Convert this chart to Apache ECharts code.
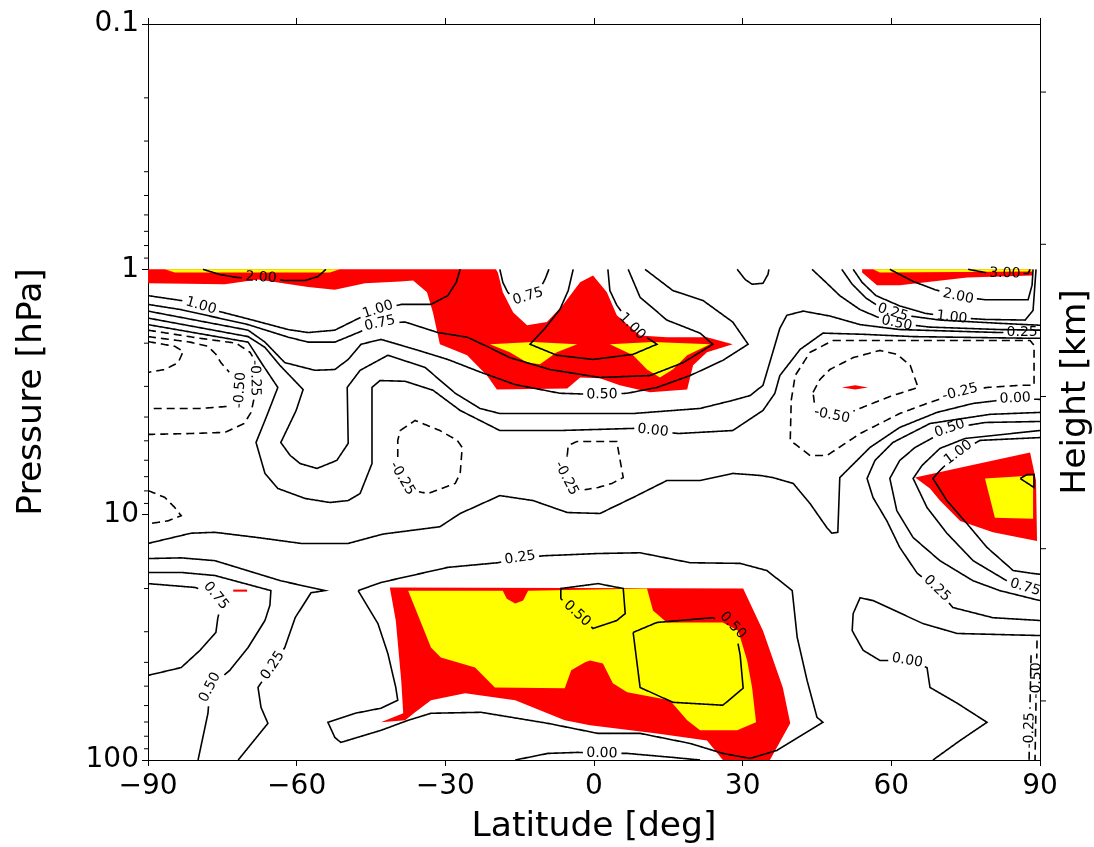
<!DOCTYPE html>
<html><head><meta charset="utf-8">
<script src="https://cdn.jsdelivr.net/npm/echarts@6/dist/echarts.min.js"></script>
<style>html,body{margin:0;padding:0;background:#fff;}#chart{width:1094px;height:847px;}</style>
</head><body><div id="chart"></div>
<script>
// ---------- axes ----------
const latTicks = [-90, -60, -30, 0, 30, 60, 90];
const pressureTicks = [0.1, 1, 10, 100];
const pressureMinorTicks = [0.2,0.3,0.4,0.5,0.6,0.7,0.8,0.9, 2,3,4,5,6,7,8,9, 20,30,40,50,60,70,80,90];
const heightTicksKm = [20, 30, 40, 50, 60];
const scaleHeightKm = 7;
const refPressureHPa = 1000;

// ---------- contour lines: flat [lat, pressure(hPa), lat, pressure, ...] ----------
const c_L200 = [-78.9,1.00, -75.5,1.05, -72.0,1.08, -67.2,1.09, -62.4,1.11, -58.3,1.11, -55.7,1.07, -54.1,1.00];
const c_L100 = [-90,1.28, -83.3,1.34, -75.9,1.48, -69.4,1.60, -61.7,1.76, -57.7,1.81, -52.3,1.77, -48.2,1.61, -43.6,1.46, -38.9,1.39, -32.9,1.39, -29.5,1.28, -27.8,1.13, -27.0,1.00];
const c_L075 = [-90,1.39, -83.3,1.46, -69.8,1.68, -61.7,1.89, -57.7,1.98, -52.3,1.98, -49.0,1.86, -43.2,1.66, -38.1,1.64, -31.5,1.81, -25.6,1.89, -21.6,2.06, -17.0,2.29, -8.9,2.56, 1.2,2.76, 11.3,2.71, 18.0,2.40, 24.0,2.02, 21.4,1.82, 14.7,1.61, 9.3,1.30, 6.9,1.00];
const c_L050 = [-90,1.48, -69.8,1.77, -66.4,1.98, -62.4,2.40, -56.3,2.58, -52.3,2.56, -49.6,2.33, -47.0,2.02, -43.0,1.93, -36.1,2.12, -29.5,2.33, -22.8,2.63, -15.9,2.95, -6.9,3.20, 1.6,3.24, 6.7,3.20, 12.7,3.03, 19.4,2.71, 26.0,2.35, 31.1,2.02, 28.0,1.64, 22.0,1.34, 15.9,1.22, 10.3,1.00];
const c_L025 = [-90,1.58, -69.8,1.88, -66.4,2.08, -63.4,2.46, -58.7,3.09, -60.1,3.76, -63.2,5.08, -61.3,5.74, -59.3,6.19, -55.9,6.48, -51.9,6.01, -49.6,5.12, -49.8,3.03, -47.2,2.58, -41.6,2.24, -34.1,2.51, -28.0,3.20, -23.0,3.69, -19.0,3.87, 7.9,3.87, 21.4,3.69, 28.0,3.42, 31.5,3.27, 34.1,2.97, 35.9,2.24, 37.5,1.74, 38.9,1.54, 42.2,1.48, 47.6,1.55, 53.7,1.68, 61.7,1.76, 81.9,1.81, 90,1.81];
const c_L000 = [-90,1.68, -69.8,1.98, -66.8,2.46, -63.8,3.03, -66.0,3.94, -68.2,5.08, -66.4,6.79, -63.8,7.82, -58.3,8.59, -53.3,8.92, -49.6,8.76, -47.2,8.20, -44.8,6.19, -44.8,3.03, -43.2,2.84, -38.1,2.86, -32.5,3.11, -27.0,3.76, -19.0,4.54, -6.9,4.54, 7.9,4.45, 11.9,4.54, 17.0,4.67, 28.0,4.54, 34.1,3.76, 36.5,3.20, 37.5,2.71, 41.6,2.12, 46.2,1.82, 54.3,1.84, 64.4,1.88, 88.0,1.91, 90,1.91];
const c_Lm025 = [-90,1.77, -79.5,1.91, -72.2,2.00, -69.4,2.18, -68.2,2.40, -68.6,2.78, -68.6,3.36, -69.2,3.83, -70.6,4.25, -74.5,4.62, -81.5,4.67, -90,4.71];
const c_Lm050 = [-90,1.88, -81.5,1.98, -77.9,2.06, -76.3,2.22, -75.3,2.40, -73.0,2.71, -71.4,3.11, -71.8,3.42, -73.9,3.62, -79.5,3.69, -90,3.69];
const c_Lm075 = [-90,1.97, -84.6,2.06, -82.9,2.16, -83.9,2.40, -86.6,2.56, -90,2.63];
const c_U075 = [-19.0,1.00, -18.4,1.13, -17.4,1.24, -15.9,1.33, -13.3,1.29, -10.7,1.18, -9.9,1.10, -9.1,1.00];
const c_U100 = [-4.2,1.00, -5.2,1.22, -6.9,1.46, -9.9,1.74, -12.9,2.02, -7.5,2.24, -0.2,2.33, 7.9,2.22, 12.7,2.02, 9.3,1.82, 7.7,1.71, 4.6,1.40, 3.2,1.22, 2.8,1.00];
const c_U025 = [28.9,1.00, 30.5,1.10, 31.9,1.15, 34.1,1.14, 35.1,1.05, 35.3,1.00];
const c_Ra = [44.0,1.00, 46.6,1.12, 49.6,1.28, 53.7,1.46, 57.7,1.58, 61.1,1.66, 67.8,1.72, 81.9,1.76, 90,1.77];
const c_Rb = [50.0,1.00, 52.1,1.15, 54.9,1.31, 58.7,1.47, 63.8,1.55, 69.8,1.61, 81.9,1.66, 90,1.69];
const c_Rc = [52.3,1.00, 54.1,1.13, 56.9,1.28, 61.7,1.41, 66.8,1.51, 72.2,1.57, 78.9,1.60, 87.0,1.61, 88.6,1.47, 89.2,1.00];
const c_R200 = [59.7,1.00, 64.4,1.12, 68.8,1.21, 73.5,1.29, 78.9,1.33, 87.6,1.33, 88.4,1.16, 88.6,1.00];
const c_R300 = [75.5,1.00, 78.9,1.03, 82.9,1.04, 87.6,1.04, 88.0,1.00];
const c_Rm025 = [48.2,1.95, 88.0,1.95, 88.8,2.04, 88.8,2.97, 86.0,2.97, 79.3,3.03, 73.9,3.17, 67.2,3.52, 61.7,3.87, 53.7,4.67, 47.0,5.74, 43.6,5.74, 39.6,4.98, 39.8,3.42, 40.6,2.71, 43.6,2.18, 48.2,1.95];
const c_Rm050 = [44.2,3.17, 45.6,2.81, 47.6,2.56, 52.3,2.29, 57.7,2.14, 61.1,2.22, 63.8,2.46, 65.4,3.03, 59.7,3.30, 55.1,3.59, 51.7,3.83, 48.0,3.94, 44.6,3.69, 44.2,3.17];
const c_Cm025a = [-39.1,4.54, -36.1,4.13, -31.1,4.54, -27.6,4.98, -26.6,5.32, -27.0,6.79, -28.0,7.46, -33.5,8.20, -36.7,7.97, -38.7,7.12, -39.6,6.01, -39.6,4.98, -39.1,4.54];
const c_Cm025b = [-5.4,5.74, -5.2,5.22, -3.4,5.03, 4.6,5.03, 5.2,5.90, 5.9,7.06, 3.6,7.46, 0.8,7.75, -2.8,7.97, -5.2,7.39, -6.1,6.61, -5.4,5.74];
const c_Lm025b = [-90,7.97, -86.6,8.51, -84.6,9.35, -83.3,10.1, -86.0,10.6, -90,10.9];
const c_M000 = [-90,13.1, -81.3,11.9, -76.5,11.8, -67.8,12.4, -59.1,13.1, -49.6,13.1, -42.6,12.0, -31.1,11.2, -27.0,9.89, -19.0,8.36, -12.3,8.76, -5.4,9.80, 1.2,9.89, 7.9,8.51, 14.7,7.26, 21.4,7.26, 28.0,6.79, 33.5,6.92, 36.1,7.06, 40.2,7.46, 43.6,9.01, 47.0,11.3, 48.0,11.9, 49.2,11.8, 49.6,7.06, 55.7,5.32, 61.7,4.41, 69.2,3.83, 76.5,3.52, 85.0,3.36, 90,3.39];
const c_V025 = [90,3.83, 79.9,3.90, 67.8,4.25, 60.3,5.08, 56.7,6.01, 55.1,7.12, 56.3,8.51, 59.1,10.6, 61.7,13.6, 65.2,17.3, 69.2,20.0, 72.4,23.9, 80.5,26.3, 90,27.0];
const c_V050 = [90,4.17, 78.9,4.21, 71.8,4.45, 64.8,5.32, 61.7,6.01, 59.7,7.12, 61.1,9.62, 64.4,12.4, 69.8,15.4, 76.5,18.6, 81.9,20.4, 90,22.4];
const c_V075 = [90,4.54, 74.9,4.89, 69.8,5.37, 66.2,6.30, 64.4,7.12, 67.2,9.35, 71.2,11.9, 76.5,15.4, 83.3,18.6, 87.0,19.8, 90,20.4];
const c_V100 = [90,4.85, 77.9,4.98, 73.5,5.58, 69.8,6.61, 68.4,7.12, 71.2,8.76, 75.3,10.9, 79.3,13.6, 84.6,16.9, 88.0,17.3, 90,17.5];
const c_V150 = [86.0,7.12, 87.4,6.86, 88.8,6.86, 88.8,7.75, 86.0,7.12];
const c_LB025 = [-90,15.1, -83.3,15.0, -76.5,15.4, -63.2,18.6, -54.3,20.4, -57.1,20.8, -60.3,26.3, -62.4,34.8, -64.8,41.2, -67.8,50.6, -67.2,61.0, -65.8,70.9, -71.8,100];
const c_LB050 = [-90,17.2, -83.3,17.2, -76.5,17.7, -65.2,20.4, -65.4,23.4, -66.4,27.0, -69.8,34.8, -73.5,43.1, -77.5,50.6, -77.9,64.5, -79.9,100];
const c_LB075 = [-90,19.1, -80.5,19.8, -77.5,20.8, -75.1,22.8, -75.9,26.3, -76.3,30.2, -79.5,35.7, -83.3,42.0, -90,45.2];
const c_B025 = [-47.6,20.4, -43.0,18.9, -29.5,16.4, -19.4,15.7, -14.9,15.0, -9.9,14.7, 0.8,14.4, 9.3,14.3, 19.4,15.7, 29.5,15.8, 34.9,16.9, 40.0,20.4, 41.0,31.6, 43.0,47.4, 45.0,67.0, 46.2,70.2, 36.9,91.4, 31.5,98.5, 26.0,94.0, 19.4,85.6, 9.3,77.9, 0.8,77.9, -9.3,70.9, -22.8,63.9, -32.9,64.5, -37.5,68.9, -43.0,75.7, -51.1,84.8, -52.3,80.9, -53.7,70.2, -48.2,64.5, -43.0,61.5, -39.6,57.1, -40.0,50.6, -41.6,36.8, -43.6,27.8, -47.6,20.4];
const c_B050a = [-6.7,22.0, -6.7,20.0, 0.8,19.1, 5.9,20.0, 6.3,25.3, 4.6,27.0, -0.2,29.1, -6.7,22.0];
const c_B050b = [7.9,30.2, 12.7,27.5, 24.0,26.3, 28.5,29.1, 29.5,37.4, 30.1,51.0, 26.0,59.8, 15.9,58.2, 9.3,50.6, 7.9,30.2];
const c_B000 = [-15.9,100, -9.3,94.0, -3.2,93.1, 1.6,94.0, 6.7,94.0, 15.9,97.6, 21.4,100];
const c_R000b = [90,31.1, 73.3,30.5, 66.4,27.8, 56.3,22.4, 53.7,21.8, 52.3,25.3, 52.1,29.7, 54.3,35.7, 57.7,39.3, 63.2,39.3, 67.2,42.0, 67.8,50.6, 73.3,58.7, 79.3,70.2, 73.9,83.2, 68.4,100];
const c_E050 = [89.4,32.6, 89.2,57.1, 89.0,100];
const c_E025 = [88.2,37.4, 88.0,57.1, 87.8,100];

// [name, level, points]
const contourSet = [
  ['L200',2.00,c_L200],['L100',1.00,c_L100],['L075',0.75,c_L075],['L050',0.50,c_L050],['L025',0.25,c_L025],['L000',0.00,c_L000],
  ['Lm025',-0.25,c_Lm025],['Lm050',-0.50,c_Lm050],['Lm075',-0.75,c_Lm075],
  ['U075',0.75,c_U075],['U100',1.00,c_U100],['U025',0.25,c_U025],
  ['Ra',0.50,c_Ra],['Rb',0.75,c_Rb],['Rc',1.00,c_Rc],['R200',2.00,c_R200],['R300',3.00,c_R300],
  ['Rm025',-0.25,c_Rm025],['Rm050',-0.50,c_Rm050],['Cm025a',-0.25,c_Cm025a],['Cm025b',-0.25,c_Cm025b],['Lm025b',-0.25,c_Lm025b],
  ['M000',0.00,c_M000],['V025',0.25,c_V025],['V050',0.50,c_V050],['V075',0.75,c_V075],['V100',1.00,c_V100],['V150',1.50,c_V150],
  ['LB025',0.25,c_LB025],['LB050',0.50,c_LB050],['LB075',0.75,c_LB075],
  ['B025',0.25,c_B025],['B050a',0.50,c_B050a],['B050b',0.50,c_B050b],['B000',0.00,c_B000],['R000b',0.00,c_R000b],
  ['E050',-0.50,c_E050],['E025',-0.25,c_E025]
];

// inline contour labels: [contour, lat, pressure, text]
const contourLabels = [
  ['L200',-67.2,1.08,'2.00'],['L100',-79.3,1.41,'1.00'],['L100',-43.6,1.46,'1.00'],['L075',-43.2,1.66,'0.75'],
  ['L050',1.6,3.24,'0.50'],['L025',86.4,1.81,'0.25'],['L000',11.9,4.54,'0.00'],
  ['Ra',61.1,1.66,'0.50'],['Rb',60.3,1.50,'0.25'],['Rc',72.2,1.57,'1.00'],['R200',73.5,1.29,'2.00'],['R300',82.9,1.04,'3.00'],
  ['Rm025',73.9,3.17,'-0.25'],['Rm050',48.0,3.94,'-0.50'],['Cm025a',-38.7,7.12,'-0.25'],['Cm025b',-5.6,7.12,'-0.25'],
  ['Lm025',-68.4,2.78,'-0.25'],['Lm050',-71.4,3.11,'-0.50'],['M000',85.0,3.36,'0.00'],
  ['LB025',-64.8,41.2,'0.25'],['LB050',-77.5,50.6,'0.50'],['LB075',-76.3,21.4,'0.75'],['B025',-14.9,15.0,'0.25'],
  ['R000b',63.2,39.3,'0.00'],['V025',69.2,20.0,'0.25'],['V050',71.8,4.45,'0.50'],['V075',87.0,19.8,'0.75'],['V100',73.5,5.58,'1.00'],
  ['B050a',-3.4,25.3,'0.50'],['B050b',28.0,28.3,'0.50'],['B000',1.6,94.0,'0.00'],['U075',-13.3,1.29,'0.75'],['U100',7.7,1.71,'1.00'],
  ['E050',89.3,47.4,'-0.50'],['E025',87.9,75.7,'-0.25']
];

// ---------- shaded regions ----------
const red_topWest = [-90,1, -19.8,1, -19.4,1.03, -18.4,1.24, -16.3,1.50, -13.5,1.69, -9.5,1.64, -6.3,1.40, -2.8,1.13, -0.2,1.06, 2.6,1.24, 4.6,1.54, 9.3,1.86, 14.7,1.89, 22.8,1.89, 28.0,2.02, 22.8,2.18, 20.0,2.46, 18.8,3.09, 11.3,3.17, 5.2,2.97, 1.2,2.78, -2.8,2.76, -5.4,3.06, -19.6,3.09, -21.6,2.71, -25.6,2.24, -31.1,2.02, -32.5,1.50, -33.7,1.24, -36.5,1.11, -39.1,1.12, -46.2,1.14, -52.3,1.21, -57.7,1.18, -67.8,1.10, -74.5,1.15, -90,1.14];
const red_topEast = [54.1,1, 88.4,1, 88.4,1.06, 75.3,1.08, 61.7,1.16, 57.1,1.16, 54.1,1.03];
const red_midEast = [64.8,7.06, 75.9,6.30, 88.0,5.58, 89.2,7.26, 89.4,12.8, 80.5,11.8, 73.9,10.6, 69.8,8.76, 67.8,7.82];
const red_dashEast = [50.0,3.03, 52.7,2.97, 55.3,3.03, 52.7,3.09];
const red_dashWest = [-72.8,20.2, -70.0,20.2, -70.0,20.6, -72.8,20.6];
const red_lower = [-41.2,19.8, 30.1,20.0, 34.1,29.7, 38.1,50.6, 39.6,70.9, 35.5,100, 26.0,100, 22.8,83.2, 12.7,77.9, -0.8,72.2, -5.9,68.9, -15.9,57.1, -26.0,53.5, -32.9,57.1, -36.1,63.9, -38.1,68.9, -43.0,70.2, -38.5,64.5, -38.9,47.4, -40.0,27.0];
const yellow_topWest = [-86.6,1, -51.3,1, -53.3,1.03, -84.6,1.03];
const yellow_lobeWest = [-21.0,2.02, -12.3,1.98, -3.4,2.02, -7.5,2.18, -10.9,2.44, -13.5,2.40, -17.0,2.18];
const yellow_lobeEast = [3.2,2.02, 11.9,1.98, 23.4,2.02, 18.8,2.24, 15.9,2.56, 13.3,2.76, 10.7,2.56, 7.9,2.24];
const yellow_topEast = [56.3,1, 88.4,1, 88.4,1.02, 57.7,1.03];
const yellow_midEast = [78.9,7.12, 88.6,6.92, 88.6,10.4, 80.9,10.3];
const yellow_lower = [-37.5,20.4, -18.4,20.4, -17.6,22.0, -15.9,23.0, -14.3,22.4, -13.3,20.4, 10.7,20.0, 11.9,24.6, 14.7,27.5, 26.0,27.5, 29.1,29.7, 30.9,39.3, 31.9,50.6, 32.7,70.2, 28.9,75.7, 21.4,75.7, 18.8,68.9, 15.3,57.1, 6.7,53.0, 3.8,48.7, 1.8,40.4, -0.8,39.3, -1.8,40.0, -4.6,43.1, -5.9,51.0, -20.0,50.6, -24.0,42.0, -30.9,38.2, -32.9,34.8];
const redAreas = [red_topWest, red_topEast, red_midEast, red_dashEast, red_dashWest, red_lower];
const yellowAreas = [yellow_topWest, yellow_lobeWest, yellow_lobeEast, yellow_topEast, yellow_midEast, yellow_lower];

// ---------- drawing ----------
const FONT = 'DejaVu Sans';
const fills = redAreas.map(a => ({pts: a, color: '#ff0000'})).concat(yellowAreas.map(a => ({pts: a, color: '#ffff00'})));
function pairs(flat) { const o = []; for (let i = 0; i < flat.length; i += 2) o.push([flat[i], flat[i + 1]]); return o; }
function textWidth(t) { let w = 0; for (const ch of t) w += ch === '.' ? 4.45 : (ch === '-' ? 5.1 : 8.9); return w; }

const chart = echarts.init(document.getElementById('chart'));
const axisStyle = {color: '#000', width: 1};
const titleStyle = {fontSize: 34.5, fontFamily: FONT, color: '#000'};
chart.setOption({
  animation: false,
  backgroundColor: '#fff',
  grid: {left: 148, right: 54, top: 24, bottom: 87, containLabel: false, outerBoundsMode: 'none'},
  xAxis: [
    {type: 'value', min: latTicks[0], max: latTicks[latTicks.length - 1], interval: 30, position: 'bottom',
     axisLine: {show: true, onZero: false, lineStyle: axisStyle},
     axisTick: {show: true, inside: false, length: 6, lineStyle: axisStyle},
     splitLine: {show: false},
     axisLabel: {fontSize: 28, fontFamily: FONT, color: '#000', margin: 13,
                 formatter: v => v < 0 ? '\u2212' + Math.abs(v) : String(v)},
     name: 'Latitude [deg]', nameLocation: 'middle', nameGap: 50, nameTextStyle: titleStyle},
    {type: 'value', min: latTicks[0], max: latTicks[latTicks.length - 1], interval: 30, position: 'top',
     axisLine: {show: true, onZero: false, lineStyle: axisStyle},
     axisTick: {show: true, inside: false, length: 6, lineStyle: axisStyle},
     splitLine: {show: false}, axisLabel: {show: false}}
  ],
  yAxis: [
    {type: 'log', logBase: 10, min: pressureTicks[0], max: pressureTicks[pressureTicks.length - 1], inverse: true, position: 'left',
     axisLine: {show: true, onZero: false, lineStyle: axisStyle},
     axisTick: {show: true, inside: false, length: 6, lineStyle: axisStyle},
     splitLine: {show: false},
     axisLabel: {fontSize: 28, fontFamily: FONT, color: '#000', margin: 9,
                 formatter: v => (Math.abs(v - 0.1) < 1e-9 ? '0.1' : String(Math.round(v)))},
     name: 'Pressure [hPa]', nameLocation: 'middle', nameGap: 98, nameRotate: 90, nameTextStyle: titleStyle},
    {type: 'value', position: 'right', min: 0, max: 1,
     axisLine: {show: true, onZero: false, lineStyle: axisStyle},
     axisTick: {show: false}, axisLabel: {show: false}, splitLine: {show: false},
     name: 'Height [km]', nameLocation: 'middle', nameGap: 19, nameRotate: 90, nameTextStyle: titleStyle}
  ],
  series: [
    {type: 'custom', name: 'shading', coordinateSystem: 'cartesian2d', xAxisIndex: 0, yAxisIndex: 0,
     clip: true, silent: true, z: 2,
     data: fills.map((f, i) => [0, 1, i]),
     renderItem: function (params, api) {
       const f = fills[api.value(2)];
       return {type: 'polygon', shape: {points: pairs(f.pts).map(p => api.coord(p))},
               style: {fill: f.color, stroke: null}};
     }},
    {type: 'custom', name: 'contours', coordinateSystem: 'cartesian2d', xAxisIndex: 0, yAxisIndex: 0,
     clip: true, silent: true, z: 3,
     data: contourSet.map((c, i) => [0, 1, i]),
     renderItem: function (params, api) {
       const [name, level, flat] = contourSet[api.value(2)];
       const px = pairs(flat).map(p => api.coord(p));
       const dense = [];
       for (let i = 0; i < px.length - 1; i++) {
         const a = px[i], b = px[i + 1];
         const n = Math.max(1, Math.ceil(Math.hypot(b[0] - a[0], b[1] - a[1]) / 1.2));
         for (let k = 0; k < n; k++) dense.push([a[0] + (b[0] - a[0]) * k / n, a[1] + (b[1] - a[1]) * k / n]);
       }
       dense.push(px[px.length - 1]);
       const labs = contourLabels.filter(l => l[0] === name).map(l => {
         const pt = api.coord([l[1], l[2]]);
         return {pt, text: l[3], r: textWidth(l[3]) / 2 + 3};
       });
       const children = [];
       labs.forEach(l => {
         let bi = 0, bd = 1e9;
         dense.forEach((q, i) => { const d = Math.hypot(q[0] - l.pt[0], q[1] - l.pt[1]); if (d < bd) { bd = d; bi = i; } });
         let i0 = bi, i1 = bi;
         while (i0 > 0 && Math.hypot(dense[i0 - 1][0] - l.pt[0], dense[i0 - 1][1] - l.pt[1]) < l.r) i0--;
         while (i1 < dense.length - 1 && Math.hypot(dense[i1 + 1][0] - l.pt[0], dense[i1 + 1][1] - l.pt[1]) < l.r) i1++;
         if (i1 === i0) { i0 = Math.max(0, bi - 1); i1 = Math.min(dense.length - 1, bi + 1); }
         let ang = Math.atan2(dense[i1][1] - dense[i0][1], dense[i1][0] - dense[i0][0]);
         if (ang > Math.PI / 2) ang -= Math.PI;
         if (ang < -Math.PI / 2) ang += Math.PI;
         l.ang = ang;
       });
       const segs = []; let cur = [];
       dense.forEach(q => {
         const hidden = labs.some(l => Math.hypot(q[0] - l.pt[0], q[1] - l.pt[1]) < l.r);
         if (hidden) { if (cur.length > 1) segs.push(cur); cur = []; } else cur.push(q);
       });
       if (cur.length > 1) segs.push(cur);
       segs.forEach(s => children.push({type: 'polyline', shape: {points: s},
         style: {stroke: '#000', lineWidth: 1.6, fill: null, lineDash: level < 0 ? [8, 5] : null}}));
       labs.forEach(l => children.push({type: 'text', x: l.pt[0], y: l.pt[1], rotation: -l.ang,
         style: {text: l.text, fill: '#000', font: '14px "' + FONT + '"', align: 'center', verticalAlign: 'middle'}}));
       return {type: 'group', children};
     }},
    {type: 'custom', name: 'minorTicks', coordinateSystem: 'cartesian2d', xAxisIndex: 0, yAxisIndex: 0,
     clip: false, silent: true, z: 4,
     data: pressureMinorTicks.map(v => [latTicks[0], v]),
     renderItem: function (params, api) {
       const c = api.coord([api.value(0), api.value(1)]);
       return {type: 'line', shape: {x1: c[0] - 4, y1: c[1], x2: c[0], y2: c[1]}, style: {stroke: '#000', lineWidth: 1}};
     }},
    {type: 'custom', name: 'heightTicks', coordinateSystem: 'cartesian2d', xAxisIndex: 0, yAxisIndex: 0,
     clip: false, silent: true, z: 4,
     data: heightTicksKm.map(h => [latTicks[latTicks.length - 1], refPressureHPa * Math.exp(-h / scaleHeightKm)]),
     renderItem: function (params, api) {
       const c = api.coord([api.value(0), api.value(1)]);
       return {type: 'line', shape: {x1: c[0], y1: c[1], x2: c[0] + 6, y2: c[1]}, style: {stroke: '#000', lineWidth: 1}};
     }}
  ]
});
</script>
</body></html>
